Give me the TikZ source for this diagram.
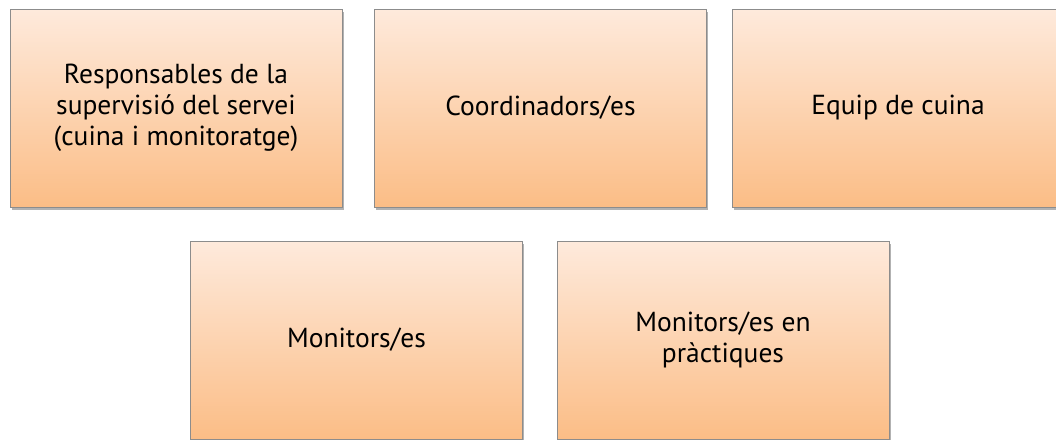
\documentclass[tikz,border=0pt]{standalone}
\usepackage{fontspec}
\setmainfont{PT Sans}
\usetikzlibrary{shadows}
\definecolor{boxtop}{HTML}{FEEADC}
\definecolor{boxbot}{HTML}{FBBD86}
\definecolor{boxline}{HTML}{8C8C8C}
\tikzset{
  rolebox/.style={draw=boxline, line width=0.8pt, top color=boxtop, bottom color=boxbot,
    minimum width=332pt, minimum height=198pt, inner sep=0pt, align=center,
    font=\fontsize{27.5}{31}\selectfont,
    drop shadow={shadow xshift=1.5pt, shadow yshift=-2.5pt, fill=black, opacity=0.3}},
}
\begin{document}
\begin{tikzpicture}[x=1pt,y=-1pt]
\useasboundingbox (0,0) rectangle (1056,439);
\clip (0,0) rectangle (1056,439);
\node[rolebox] (resp) at (176,108) {Responsables de la\\supervisió del servei\\(cuina i monitoratge)};
\node[rolebox] (coord) at (540.5,108) {Coordinadors/es};
\node[rolebox] (cuina) at (898,108) {Equip de cuina};
\node[rolebox] (mon) at (356.5,340) {Monitors/es};
\node[rolebox] (monp) at (723,340) {Monitors/es en\\pràctiques};
\end{tikzpicture}
\end{document}
